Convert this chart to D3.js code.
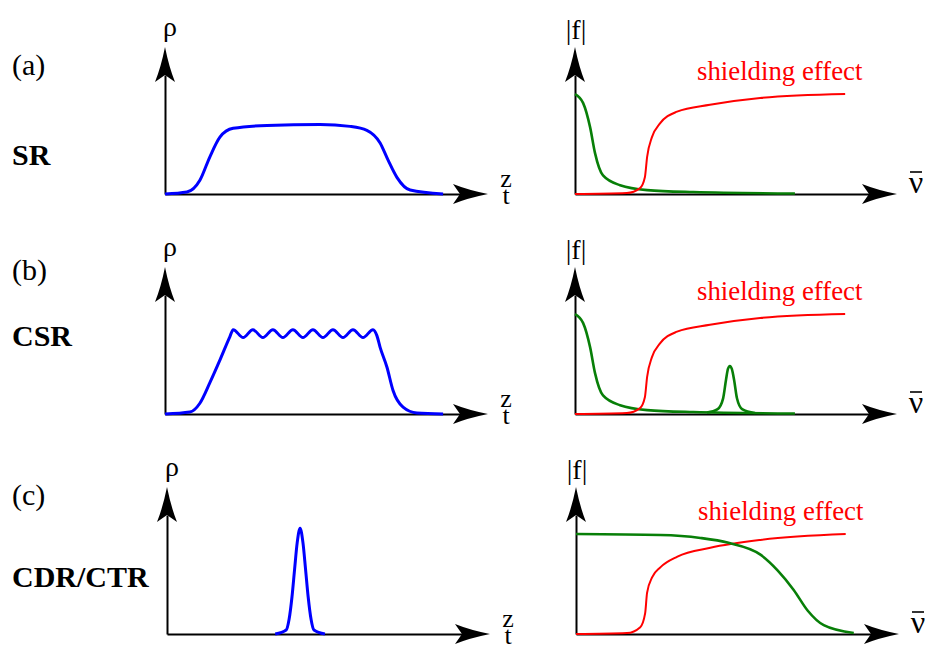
<!DOCTYPE html>
<html>
<head>
<meta charset="utf-8">
<script src="https://cdn.jsdelivr.net/npm/d3@7"></script>
<style>
  body { margin: 0; background: #fff; }
</style>
</head>
<body>
<script>
// Curve data: [position, amplitude]
const srDensity = [[0, 0], [0.68, 0.02], [1.08, 0.14], [1.39, 0.38], [1.70, 0.58], [2.11, 0.67], [3.16, 0.70], [4.80, 0.71], [5.73, 0.69], [6.25, 0.65], [6.66, 0.52], [6.90, 0.35], [7.18, 0.17], [7.59, 0.04], [8.61, 0]]
const csrDensity = [[0, 0], [0.77, 0.02], [1.08, 0.11], [1.39, 0.32], [1.70, 0.55], [2.01, 0.79], [2.11, 0.86], [2.42, 0.78], [2.72, 0.86], [3.03, 0.78], [3.34, 0.86], [3.65, 0.78], [3.96, 0.86], [4.27, 0.78], [4.58, 0.86], [4.89, 0.78], [5.20, 0.86], [5.51, 0.78], [5.82, 0.86], [6.13, 0.78], [6.44, 0.86], [6.56, 0.80], [6.66, 0.68], [6.87, 0.48], [7.06, 0.24], [7.37, 0.07], [7.80, 0.01], [8.61, 0]]
const cdrDensity = [[3.35, 0], [3.69, 0.04], [3.78, 0.15], [3.87, 0.38], [3.95, 0.66], [4.03, 0.93], [4.12, 1.08], [4.21, 0.93], [4.29, 0.66], [4.37, 0.38], [4.46, 0.15], [4.55, 0.04], [4.89, 0]]

const srSpectrum = [[0, 1.02], [0.25, 0.93], [0.47, 0.68], [0.62, 0.42], [0.87, 0.19], [1.40, 0.09], [2.24, 0.04], [3.67, 0.02], [6.83, 0.005]]
const csrPeak = [[4.10, 0.015], [4.43, 0.05], [4.60, 0.16], [4.69, 0.35], [4.75, 0.46], [4.81, 0.49], [4.87, 0.46], [4.94, 0.35], [5.03, 0.16], [5.19, 0.05], [5.59, 0.01]]
const cdrSpectrum = [[0, 1.02], [2.61, 1.01], [3.85, 0.98], [4.72, 0.93], [5.71, 0.81], [6.24, 0.65], [6.74, 0.45], [7.17, 0.24], [7.67, 0.09], [8.60, 0.01]]

const shielding = [[0, 0], [1.61, 0.01], [2.02, 0.06], [2.17, 0.17], [2.24, 0.38], [2.39, 0.58], [2.64, 0.72], [3.17, 0.84], [4.19, 0.91], [5.75, 0.98], [8.39, 1.02]]
const shieldingCdr = [[0, 0], [1.58, 0.01], [1.99, 0.07], [2.14, 0.21], [2.20, 0.42], [2.36, 0.58], [2.61, 0.68], [3.14, 0.79], [4.16, 0.88], [5.71, 0.96], [8.35, 1.02]]

// Labels
const rowLetters = ['(a)', '(b)', '(c)']
const rowNames = ['SR', 'CSR', 'CDR/CTR']
const shieldingLabel = 'shielding effect'

// Chart settings
const width = 928
const height = 657
const xMax = 10
const yMax = 1.5
const axisHeight = 147
const arrowLength = 35
const arrowNotch = 28
const arrowHalf = 10
const fontName = 'Liberation Serif'

// Colors
const blueColor = '#0000ff'
const greenColor = '#087f08'
const redColor = '#ff0000'

// Panel layout
const leftPanels = [
  { ox: 165, oy: 194, len: 323, curves: [{ data: srDensity, color: blueColor, w: 3 }] },
  { ox: 165, oy: 414, len: 323, curves: [{ data: csrDensity, color: blueColor, w: 3 }] },
  { ox: 167, oy: 634, len: 323, curves: [{ data: cdrDensity, color: blueColor, w: 3 }] }
]
const rightPanels = [
  { ox: 575, oy: 194, len: 322, curves: [{ data: srSpectrum, color: greenColor, w: 2.6 }, { data: shielding, color: redColor, w: 2 }] },
  { ox: 575, oy: 414, len: 322, curves: [{ data: srSpectrum, color: greenColor, w: 2.6 }, { data: csrPeak, color: greenColor, w: 2.6 }, { data: shielding, color: redColor, w: 2 }] },
  { ox: 576, oy: 634, len: 323, curves: [{ data: shieldingCdr, color: redColor, w: 2 }, { data: cdrSpectrum, color: greenColor, w: 2.6 }] }
]

// Create svg
const svg = d3.select('body')
  .append('svg')
  .attr('width', width)
  .attr('height', height)

function addText(x, y, size, str) {
  return svg.append('text')
    .attr('x', x)
    .attr('y', y)
    .attr('font-family', fontName)
    .attr('font-size', size)
    .text(str)
}

function drawPanel(p) {
  const xScale = d3.scaleLinear().domain([0, xMax]).range([p.ox, p.ox + p.len])
  const yScale = d3.scaleLinear().domain([0, yMax]).range([p.oy, p.oy - axisHeight])
  const xTip = xScale(xMax)
  const yTip = yScale(yMax)

  // Axes without ticks, stopping at the arrow notch
  const xAxis = svg.append('g')
    .attr('transform', `translate(0, ${p.oy})`)
    .call(d3.axisBottom(xScale.copy().range([p.ox, xTip - arrowNotch])).tickValues([]).tickSizeOuter(0))
  const yAxis = svg.append('g')
    .attr('transform', `translate(${p.ox}, 0)`)
    .call(d3.axisLeft(yScale.copy().range([p.oy, yTip + arrowNotch])).tickValues([]).tickSizeOuter(0))
  xAxis.select('.domain').attr('stroke-width', 2)
  yAxis.select('.domain').attr('stroke-width', 2)

  // Arrow heads
  svg.append('path')
    .attr('d', `M${xTip},${p.oy} Q${xTip - 20},${p.oy - 4} ${xTip - arrowLength},${p.oy - arrowHalf} L${xTip - arrowNotch},${p.oy} L${xTip - arrowLength},${p.oy + arrowHalf} Q${xTip - 20},${p.oy + 4} ${xTip},${p.oy} Z`)
    .attr('fill', '#000')
  svg.append('path')
    .attr('d', `M${p.ox},${yTip} Q${p.ox - 4},${yTip + 20} ${p.ox - arrowHalf},${yTip + arrowLength} L${p.ox},${yTip + arrowNotch} L${p.ox + arrowHalf},${yTip + arrowLength} Q${p.ox + 4},${yTip + 20} ${p.ox},${yTip} Z`)
    .attr('fill', '#000')

  // Curves
  const line = d3.line()
    .x(d => xScale(d[0]))
    .y(d => yScale(d[1]))
    .curve(d3.curveMonotoneX)
  p.curves.forEach(c => {
    svg.append('path')
      .datum(c.data)
      .attr('d', line)
      .attr('fill', 'none')
      .attr('stroke', c.color)
      .attr('stroke-width', c.w)
      .attr('stroke-linejoin', 'round')
  })

  return { xTip, yTip }
}

// Left column: charge density
leftPanels.forEach(p => {
  const { xTip, yTip } = drawPanel(p)
  addText(p.ox + 5, yTip - 11, 28, 'ρ')
    .attr('text-anchor', 'middle')

  // z over t, one label
  const zt = addText(xTip + 18, p.oy - 7, 26, null)
    .attr('text-anchor', 'middle')
  zt.append('tspan').attr('x', xTip + 18).text('z')
  zt.append('tspan').attr('x', xTip + 18).attr('dy', 17).text('t')
})

// Right column: form factor
rightPanels.forEach(p => {
  const { xTip, yTip } = drawPanel(p)
  addText(p.ox + 1, yTip - 8, 28, '|f|')
    .attr('text-anchor', 'middle')

  // nu with a bar over it
  addText(xTip + 19, p.oy - 1, 32, 'ν')
    .attr('text-anchor', 'middle')
  svg.append('line')
    .attr('x1', xTip + 13)
    .attr('x2', xTip + 25)
    .attr('y1', p.oy - 22)
    .attr('y2', p.oy - 22)
    .attr('stroke', '#000')
    .attr('stroke-width', 1.6)

  addText(p.ox + 122, p.oy - 114, 26.8, shieldingLabel)
    .attr('fill', redColor)
})

// Row labels
const letterY = [75, 280, 505]
const nameY = [165, 346, 587]
rowLetters.forEach((t, i) => {
  addText(12, letterY[i], 30, t)
  addText(12, nameY[i], 30, rowNames[i])
    .attr('font-weight', 'bold')
})
</script>
</body>
</html>
